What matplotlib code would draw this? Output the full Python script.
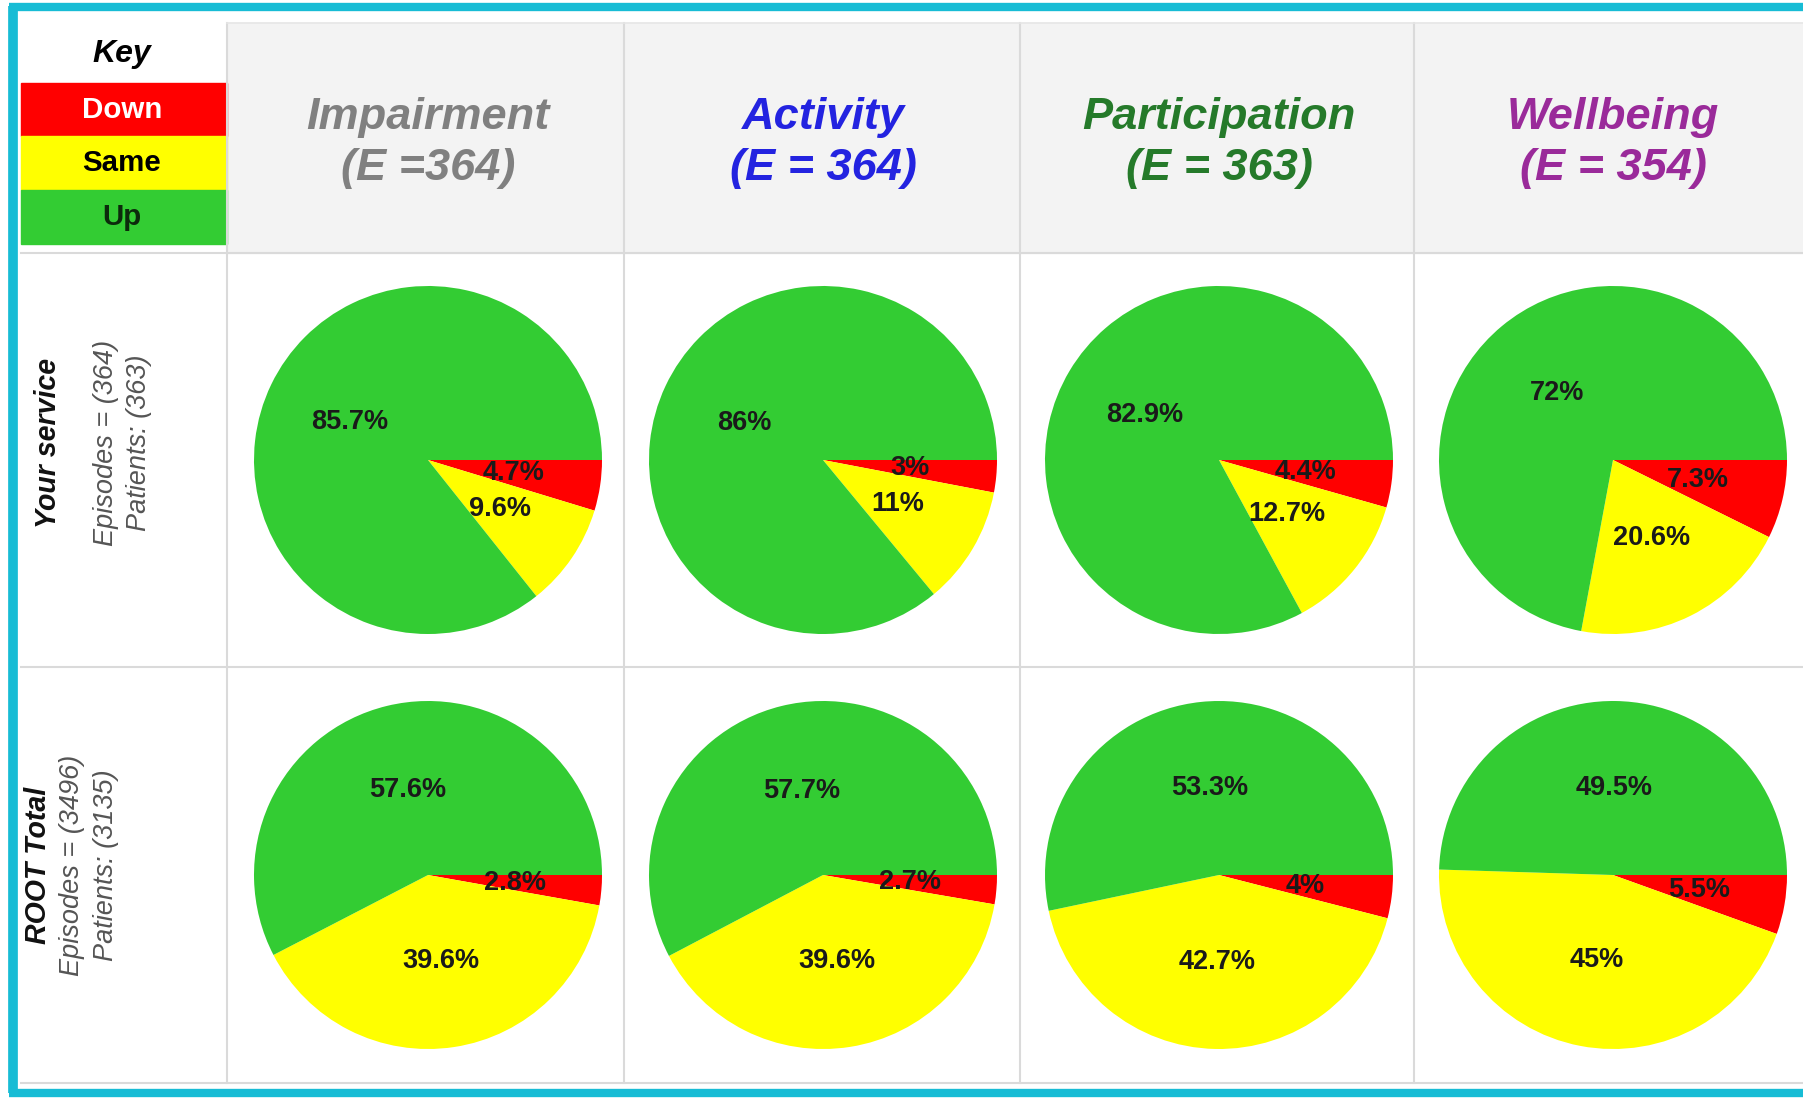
import matplotlib
matplotlib.use("Agg")
import matplotlib.pyplot as plt
from matplotlib.patches import Rectangle
from matplotlib import font_manager

# --- data -------------------------------------------------------------
categories = ["Down", "Same", "Up"]
cat_colors = ["#FF0000", "#FFFF00", "#33CC33"]
measures = ["Impairment", "Activity", "Participation", "Wellbeing"]
header_counts = ["(E =364)", "(E = 364)", "(E = 363)", "(E = 354)"]
header_colors = ["#808080", "#2323E0", "#257A2A", "#9A2A9A"]

row_titles = ["Your service", "ROOT Total"]
row_episodes = ["Episodes = (364)", "Episodes = (3496)"]
row_patients = ["Patients: (363)", "Patients: (3135)"]

# percent Down / Same / Up
service_pct = [[4.7, 9.6, 85.7], [3, 11, 86], [4.4, 12.7, 82.9], [7.3, 20.6, 72]]
root_pct = [[2.8, 39.6, 57.6], [2.7, 39.6, 57.7], [4, 42.7, 53.3], [5.5, 45, 49.5]]
all_rows = [service_pct, root_pct]

# --- fonts ------------------------------------------------------------
names = set(f.name for f in font_manager.fontManager.ttflist)
narrow = "Liberation Sans Narrow" if "Liberation Sans Narrow" in names else "Liberation Sans"
base = "Liberation Sans"
shrink = 1.0 if narrow != base else 0.85

W, H = 1803, 1098
fig = plt.figure(figsize=(W / 100, H / 100), dpi=100)
bg = fig.add_axes([0, 0, 1, 1])
bg.set_xlim(0, W)
bg.set_ylim(H, 0)
bg.axis("off")

# layout (pixels)
col_edges = [227, 624, 1020, 1414]
pie_cx = [428, 823, 1219, 1613]
pie_cy = [460, 875]
r = 174
grid = "#DADADA"

# header band
bg.add_patch(Rectangle((227, 23), W - 227, 230, color="#F3F3F3", zorder=0))

# key
key_y = [83, 136, 190, 244]
bg.text(122, 54, "Key", ha="center", va="center", fontsize=23, fontweight="bold",
        fontstyle="italic", family=narrow, color="black")
key_text_colors = ["white", "black", "#0c2a0c"]
for i, cat in enumerate(categories):
    bg.add_patch(Rectangle((21, key_y[i]), 206, key_y[i + 1] - key_y[i],
                           color=cat_colors[i], zorder=1))
    bg.text(122, (key_y[i] + key_y[i + 1]) / 2, cat, ha="center", va="center",
            fontsize=25 * shrink, fontweight="bold", family=narrow,
            color=key_text_colors[i], zorder=2)

# grid lines
for x in col_edges:
    bg.plot([x, x], [23, 1083], color=grid, lw=1.5, zorder=1)
bg.plot([21, W], [253, 253], color=grid, lw=1.5, zorder=1)
bg.plot([21, W], [667, 667], color=grid, lw=1.5, zorder=1)
bg.plot([21, W], [1083, 1083], color=grid, lw=1.5, zorder=1)
bg.plot([227, W], [23, 23], color="#E6E6E6", lw=1.2, zorder=1)

# cyan frame
frame = "#17BCD5"
bg.plot([13, 13], [6, 1093], color=frame, lw=7, solid_capstyle="butt", zorder=3)
bg.plot([9, W], [7, 7], color=frame, lw=6, solid_capstyle="butt", zorder=3)
bg.plot([9, W], [1093, 1093], color=frame, lw=6, solid_capstyle="butt", zorder=3)

# headers
for j, m in enumerate(measures):
    bg.text(pie_cx[j], 143, m + "\n" + header_counts[j], ha="center", va="center",
            fontsize=32.5, fontweight="bold", fontstyle="italic", family=base,
            color=header_colors[j], linespacing=1.3)

# row labels
row_title_x = [48, 38]
row_ep_x = [106, 72]
row_pa_x = [139, 106]
row_label_y = [443, 865]
for i in range(2):
    bg.text(row_title_x[i], row_label_y[i], row_titles[i], rotation=90, ha="center",
            va="center", fontsize=23 * shrink + 1, fontweight="bold",
            fontstyle="italic", family=narrow, color="#111111")
    bg.text(row_ep_x[i], row_label_y[i], row_episodes[i], rotation=90, ha="center",
            va="center", fontsize=23 * shrink, fontstyle="italic", family=narrow,
            color="#555555")
    bg.text(row_pa_x[i], row_label_y[i], row_patients[i], rotation=90, ha="center",
            va="center", fontsize=23 * shrink, fontstyle="italic", family=narrow,
            color="#555555")

# pies
for i, rows in enumerate(all_rows):
    for j, vals in enumerate(rows):
        ax = fig.add_axes([(pie_cx[j] - r) / W, 1 - (pie_cy[i] + r) / H,
                           2 * r / W, 2 * r / H])
        labs = iter(f"{v:g}%" for v in vals)
        ax.pie(vals, colors=cat_colors, startangle=0, counterclock=False,
               autopct=lambda p: next(labs), pctdistance=0.5, normalize=True,
               textprops=dict(fontsize=23 * shrink, fontweight="bold",
                              family=narrow, color="#1a1a1a"))
        ax.set_xlim(-1, 1)
        ax.set_ylim(-1, 1)
        ax.axis("off")

fig.savefig("out.png", dpi=100)
